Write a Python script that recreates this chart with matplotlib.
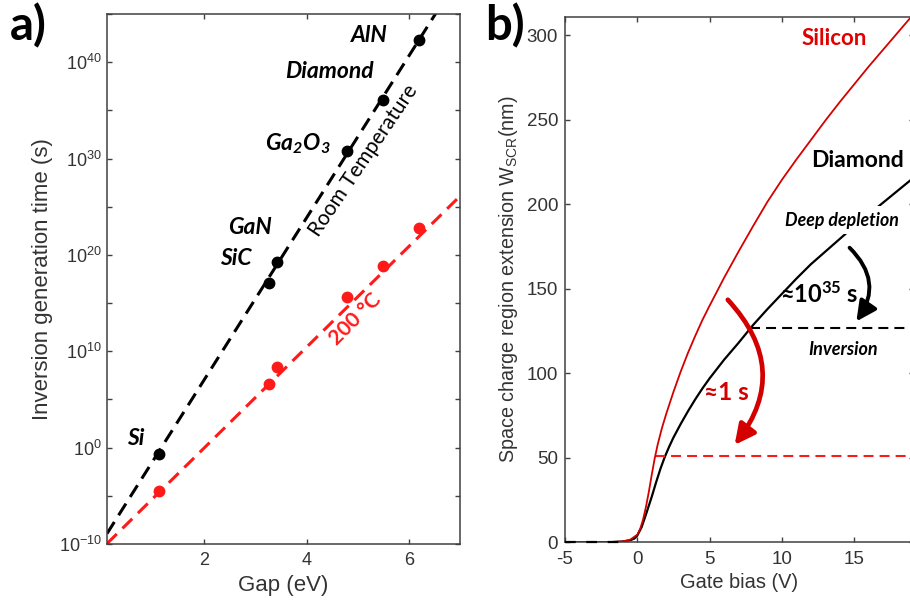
import numpy as np
import matplotlib
matplotlib.use("Agg")
import matplotlib.pyplot as plt
from matplotlib.patches import FancyArrowPatch
from matplotlib.ticker import FixedLocator, NullFormatter

plt.rcParams['font.family'] = ['Liberation Sans', 'DejaVu Sans']
plt.rcParams['axes.unicode_minus'] = False
plt.rcParams['mathtext.fontset'] = 'custom'
plt.rcParams['mathtext.rm'] = 'Liberation Sans'
plt.rcParams['mathtext.it'] = 'Liberation Sans:italic'
plt.rcParams['mathtext.bf'] = 'Lato:bold'
plt.rcParams['mathtext.bfit'] = 'Lato:italic:bold'

# ---------------- Panel a data ----------------
materials = ['Si', 'SiC', 'GaN', r'Ga$_{\mathbfit{2}}$O$_{\mathbfit{3}}$', 'Diamond', 'AlN']
gap_ev = [1.12, 3.26, 3.43, 4.8, 5.5, 6.2]
log_time_room = [-0.65, 17.1, 19.3, 30.8, 36.1, 42.3]
log_time_200c = [-4.47, 6.65, 8.34, 15.6, 18.8, 22.8]
fit_gap_room = [0.1, 6.6]
fit_log_time_room = [-8.92, 45.68]
fit_gap_200c = [0.1, 7.0]
fit_log_time_200c = [-9.96, 26.1]
ytick_exponents_a = [-10, 0, 10, 20, 30, 40]
xticks_a = [2, 4, 6]

# ---------------- Panel b data ----------------
bias_silicon = [-5, -2, -1, -0.5, 0, 0.2, 0.4, 0.6, 0.8, 1.0, 1.2, 1.4, 1.7, 2.0, 2.5,
                3.0, 3.5, 4.0, 4.5, 5.0, 6.0, 7.0, 8.0, 9.0, 10.0, 11.0, 12.0, 13.0,
                14.0, 15.0, 16.0, 17.0, 18.0, 19.0]
wscr_silicon = [0, 0, 0.5, 1.5, 4.5, 8, 13.5, 21, 30, 40, 49.5, 57.5, 67.5, 76, 89,
                101, 112, 122, 131.5, 140, 156.5, 172, 187, 201.5, 214.5, 226.5, 238, 249.5,
                260.5, 271, 281.5, 291.5, 301.5, 311.5]
bias_diamond = [-5, -2, -1, -0.5, -0.2, 0, 0.3, 0.6, 1.0, 1.3, 1.6, 1.9, 2.2, 2.5, 3.0,
                3.5, 4.0, 4.5, 5.0, 5.5, 6.0, 7.0, 8.0, 9.0, 10.0, 11.0, 12.0, 13.0,
                14.0, 15.0, 16.0, 17.0, 18.0, 19.0]
wscr_diamond = [0, 0, 0.5, 1.2, 2.2, 4, 9, 16.5, 27, 35.5, 43.5, 50.5, 56.5, 62, 70,
                77.5, 84.5, 91, 97, 102.5, 108, 118, 128.5, 138, 147, 156, 164.5, 172,
                179.5, 187, 194, 201, 208, 215]
inversion_silicon_bias = [1.2, 19.2]
inversion_silicon_w = [51.3, 51.3]
inversion_diamond_bias = [7.8, 19.2]
inversion_diamond_w = [126.8, 126.8]
inversion_diamond_low_bias = [-5, -0.6]
inversion_diamond_low_w = [0, 0]
xticks_b = [-5, 0, 5, 10, 15]
yticks_b = [0, 50, 100, 150, 200, 250, 300]

RED = '#ff1a1a'
DRED = '#d40000'
SPINE = '#404040'
TICKC = '#333333'
ANN = ['Lato', 'DejaVu Sans']

fig = plt.figure(figsize=(9.1, 6.0), dpi=100)
axa = fig.add_axes([107/910, 56/600, 353/910, 530/600])
axb = fig.add_axes([565/910, 57.7/600, 348.5/910, 525.6/600])

for ax in (axa, axb):
    for s in ax.spines.values():
        s.set_color(SPINE)
        s.set_linewidth(1.1)
    ax.tick_params(which='both', direction='in', length=3.8, width=1.0, color=SPINE,
                   top=True, right=True, labelsize=13, labelcolor=TICKC)
    ax.tick_params(axis='x', pad=6)

# ---------------- Panel a ----------------
axa.set_yscale('log')
axa.plot(fit_gap_room, 10.0**np.array(fit_log_time_room), color='black', lw=2.2,
         ls=(0, (4.5, 2.6)), zorder=2)
axa.plot(fit_gap_200c, 10.0**np.array(fit_log_time_200c), color=RED, lw=2.2,
         ls=(0, (4.5, 2.6)), zorder=2)
axa.plot(gap_ev, 10.0**np.array(log_time_room), 'o', ms=7.5, color='black', zorder=3)
axa.plot(gap_ev, 10.0**np.array(log_time_200c), 'o', ms=7.5, color=RED, zorder=3)
axa.set_xlim(0.1, 7)
axa.set_ylim(1e-10, 1e45)
axa.set_xticks(xticks_a)
axa.yaxis.set_major_locator(FixedLocator([10.0**k for k in ytick_exponents_a]))
axa.set_yticklabels([r'$10^{%d}$' % k for k in ytick_exponents_a])
axa.yaxis.set_minor_locator(FixedLocator([10.0**(k + 5) for k in ytick_exponents_a]))
axa.yaxis.set_minor_formatter(NullFormatter())
axa.set_xlabel('Gap (eV)', fontsize=16, color=TICKC, labelpad=4)
axa.set_ylabel('Inversion generation time (s)', fontsize=16, color=TICKC, labelpad=4)

label_xy_a = [(0.67, 0.9), (2.61, 19.6), (2.89, 22.8), (3.83, 31.6), (4.45, 39.0), (5.22, 42.8)]
for name, (lx, ly) in zip(materials, label_xy_a):
    axa.text(lx, 10.0**ly, name, fontsize=16.5, fontweight='bold', fontstyle='italic',
             family=ANN, ha='center', va='center')
axa.text(5.12, 10.0**29.8, 'Room Temperature', fontsize=15, family=ANN,
         rotation=56, ha='center', va='center', rotation_mode='anchor')
axa.text(4.95, 10.0**13.3, '200 °C', fontsize=15, family=ANN, fontweight='bold',
         color=RED, rotation=45, ha='center', va='center', rotation_mode='anchor')

# ---------------- Panel b ----------------
axb.plot(bias_diamond, wscr_diamond, color='black', lw=1.6, zorder=2)
axb.plot(bias_silicon, wscr_silicon, color=DRED, lw=1.3, zorder=3)
axb.plot(inversion_diamond_bias, inversion_diamond_w, color='black', lw=1.5,
         ls=(0, (4.8, 2.9)), zorder=2)
axb.plot(inversion_diamond_low_bias, inversion_diamond_low_w, color='black', lw=1.6,
         ls=(0, (4.8, 4.8)), zorder=4, clip_on=False)
axb.plot(inversion_silicon_bias, inversion_silicon_w, color=RED, lw=1.5,
         ls=(0, (4.8, 2.9)), zorder=2)
axb.set_xlim(-5, 19.1)
axb.set_ylim(0, 311)
axb.set_xticks(xticks_b)
axb.set_yticks(yticks_b)
axb.tick_params(axis='both', labelsize=13.5)
axb.tick_params(axis='y', pad=5)
axb.set_xlabel('Gate bias (V)', fontsize=14.4, color=TICKC, labelpad=4)
axb.set_ylabel(r'Space charge region extension W$_{\mathrm{SCR}}$(nm)', fontsize=14.2,
               color=TICKC, labelpad=5)

axb.text(13.65, 298, 'Silicon', fontsize=16, fontweight='bold', family=ANN,
         color='#e00000', ha='center', va='center')
axb.text(15.2, 226, 'Diamond', fontsize=16.5, fontweight='bold', family=ANN,
         color='black', ha='center', va='center')
axb.text(14.16, 190.5, 'Deep depletion', fontsize=12.8, fontweight='bold', fontstyle='italic',
         family=ANN, ha='center', va='center', zorder=4,
         bbox=dict(facecolor='white', edgecolor='none', pad=4))
axb.text(14.2, 114, 'Inversion', fontsize=13, fontweight='bold', fontstyle='italic',
         family=ANN, ha='center', va='center')
axb.text(12.55, 147, r'≈10$^{\mathbf{35}}$ s', fontsize=17, fontweight='bold',
         family=ANN, ha='center', va='center')
axb.text(6.14, 88.4, '≈1 s', fontsize=17.5, fontweight='bold', family=ANN,
         color=DRED, ha='center', va='center')

arr_black = FancyArrowPatch((14.68, 174.3), (15.15, 130.7), transform=axb.transData,
                            connectionstyle='arc3,rad=-0.42',
                            arrowstyle='-|>,head_length=1.0,head_width=0.5',
                            mutation_scale=12, lw=2.8, color='black',
                            shrinkA=0, shrinkB=0, zorder=5)
axb.add_patch(arr_black)
arr_red = FancyArrowPatch((6.26, 143.5), (6.73, 57.6), transform=axb.transData,
                          connectionstyle='arc3,rad=-0.42',
                          arrowstyle='-|>,head_length=1.0,head_width=0.5',
                          mutation_scale=12, lw=3.4, color=DRED,
                          shrinkA=0, shrinkB=0, zorder=5)
axb.add_patch(arr_red)

fig.text(10/910, 1 - 40/600, 'a)', fontsize=34, fontweight='bold', family=ANN,
         va='baseline', ha='left')
fig.text(485/910, 1 - 40/600, 'b)', fontsize=34, fontweight='bold', family=ANN,
         va='baseline', ha='left')

fig.savefig('out.png', dpi=100)
